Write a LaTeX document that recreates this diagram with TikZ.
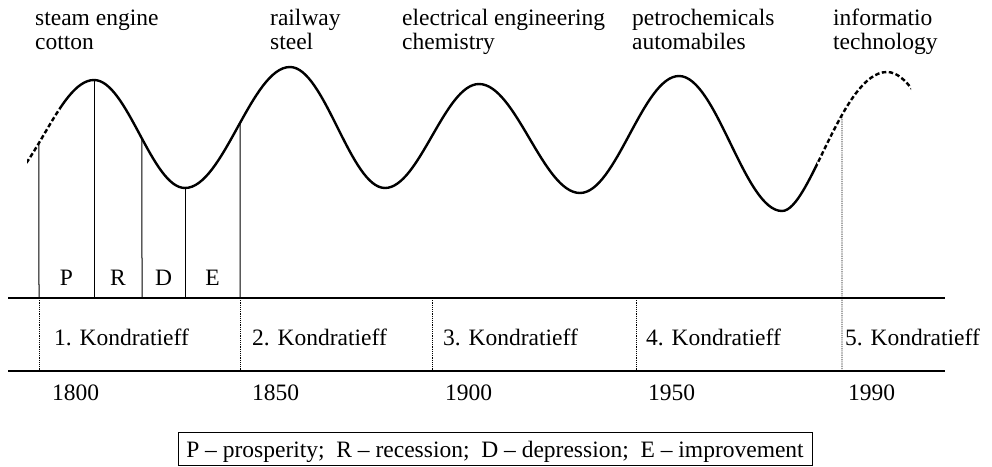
\documentclass[tikz,border=0pt]{standalone}
\usepackage{fontspec}
\setmainfont{Liberation Serif}
\usetikzlibrary{intersections}
\begin{document}
\begin{tikzpicture}[x=1pt,y=-1pt,
  lbl/.style={font=\fontsize{23.5}{24}\selectfont, inner sep=0pt},
  wavecurve/.style={line width=2.4pt, line cap=round},
  wavedash/.style={line width=2.4pt, dash pattern=on 4.5pt off 2.5pt},
  axisline/.style={line width=1.4pt},
  phase/.style={line width=1pt, black},
  divider/.style={line width=0.9pt, dash pattern=on 1.2pt off 1pt},
]
\useasboundingbox (0,0) rectangle (992,466);

% invisible full wave for intersections
\path[name path=wave] (-5.5,188) .. controls (30.7,188) and (57.8,80) .. (94,80)
 .. controls (127.1,80) and (151.9,188) .. (185,188)
 .. controls (223.2,188) and (251.8,67) .. (290,67)
 .. controls (324.5,67) and (350.5,188) .. (385,188)
 .. controls (419.2,188) and (444.8,84) .. (479,84)
 .. controls (515.7,84) and (543.3,193) .. (580,193)
 .. controls (616,193) and (643,76) .. (679,76)
 .. controls (716.4,76) and (744.6,211) .. (782,211)
 .. controls (810,211) and (842,72) .. (887,72)
 .. controls (925.2,72) and (953.8,200) .. (992,200);

% dashed start
\begin{scope}
\clip (27,0) rectangle (60,300);
\draw[wavedash] (-5.5,188) .. controls (30.7,188) and (57.8,80) .. (94,80);
\end{scope}
% solid middle
\begin{scope}
\clip (60,0) rectangle (817,300);
\draw[wavecurve] (-5.5,188) .. controls (30.7,188) and (57.8,80) .. (94,80)
 .. controls (127.1,80) and (151.9,188) .. (185,188)
 .. controls (223.2,188) and (251.8,67) .. (290,67)
 .. controls (324.5,67) and (350.5,188) .. (385,188)
 .. controls (419.2,188) and (444.8,84) .. (479,84)
 .. controls (515.7,84) and (543.3,193) .. (580,193)
 .. controls (616,193) and (643,76) .. (679,76)
 .. controls (716.4,76) and (744.6,211) .. (782,211)
 .. controls (810,211) and (842,72) .. (887,72);
\end{scope}
% dashed end
\begin{scope}
\clip (817,0) rectangle (911,300);
\draw[wavedash] (782,211) .. controls (810,211) and (842,72) .. (887,72)
 .. controls (925.2,72) and (953.8,200) .. (992,200);
\end{scope}

% axis lines
\coordinate (axL1) at (8,298);
\coordinate (axR1) at (945,298);
\coordinate (axL2) at (8,371);
\coordinate (axR2) at (945,371);
\draw[axisline] (axL1) -- (axR1);
\draw[axisline] (axL2) -- (axR2);

% intersections of phase lines with wave
\path[name path=v39] (39,0) -- (39,300);
\path[name path=v142] (142,0) -- (142,300);
\path[name path=v240] (240,0) -- (240,300);
\path[name path=v842] (842,0) -- (842,300);
\path[name intersections={of=wave and v39, by=c39}];
\path[name intersections={of=wave and v142, by=c142}];
\path[name intersections={of=wave and v240, by=c240}];
\path[name intersections={of=wave and v842, by=c842}];
\coordinate (c94) at (94,80);
\coordinate (c185) at (185,188);

\coordinate (b39) at (39,298);
\coordinate (b94) at (94,298);
\coordinate (b142) at (142,298);
\coordinate (b185) at (185,298);
\coordinate (b240) at (240,298);
\coordinate (b432) at (432,298);
\coordinate (b636) at (636,298);
\coordinate (b842) at (842,298);
\coordinate (d39) at (39,371);
\coordinate (d240) at (240,371);
\coordinate (d432) at (432,371);
\coordinate (d636) at (636,371);
\coordinate (d842) at (842,371);

\draw[phase] (c39) -- (b39);
\draw[phase] (c94) -- (b94);
\draw[phase] (c142) -- (b142);
\draw[phase] (c185) -- (b185);
\draw[phase] (c240) -- (b240);

\draw[divider] (b39) -- (d39);
\draw[divider] (b240) -- (d240);
\draw[divider] (b432) -- (d432);
\draw[divider] (b636) -- (d636);
\draw[divider] (c842) -- (d842);

% top labels (base anchor = baseline of the last line)
\node[lbl, anchor=base west, align=left] (t1) at (35,49) {steam engine\\cotton};
\node[lbl, anchor=base west, align=left] (t2) at (270,49) {railway\\steel};
\node[lbl, anchor=base west, align=left] (t3) at (402,49) {electrical engineering\\chemistry};
\node[lbl, anchor=base west, align=left] (t4) at (632,49) {petrochemicals\\automabiles};
\node[lbl, anchor=base west, align=left] (t5) at (833,49) {informatio\\technology};

% phase letters
\node[lbl, anchor=base] (lp) at (66.5,285) {P};
\node[lbl, anchor=base] (lr) at (118,285) {R};
\node[lbl, anchor=base] (ld) at (163.5,285) {D};
\node[lbl, anchor=base] (le) at (212.5,285) {E};

% Kondratieff labels
\node[lbl, anchor=base west] (k1) at (54,345) {1. Kondratieff};
\node[lbl, anchor=base west] (k2) at (252,345) {2. Kondratieff};
\node[lbl, anchor=base west] (k3) at (443,345) {3. Kondratieff};
\node[lbl, anchor=base west] (k4) at (646,345) {4. Kondratieff};
\node[lbl, anchor=base west] (k5) at (845,345) {5. Kondratieff};

% years
\node[lbl, anchor=base west] (y1) at (52,400) {1800};
\node[lbl, anchor=base west] (y2) at (252,400) {1850};
\node[lbl, anchor=base west] (y3) at (445,400) {1900};
\node[lbl, anchor=base west] (y4) at (648,400) {1950};
\node[lbl, anchor=base west] (y5) at (848,400) {1990};

% legend
\node[lbl, draw, line width=0.9pt, minimum width=634pt, minimum height=33pt,
      text height=20pt, text depth=3pt] (legend) at (495,448.5)
  {P -- prosperity;\ \ R -- recession;\ \ D -- depression;\ \ E -- improvement};
\end{tikzpicture}
\end{document}
